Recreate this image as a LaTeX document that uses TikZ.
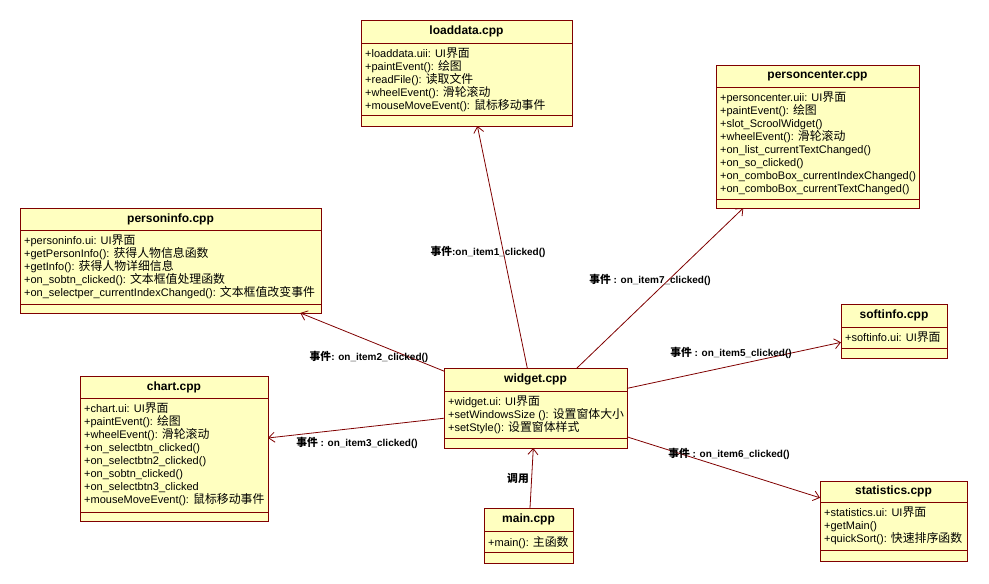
\documentclass[tikz,border=0pt]{standalone}
\usepackage{fontspec}
\setmainfont{Liberation Sans}
\newfontfamily\cjk{Noto Sans CJK SC}[Scale=1.08]
\newcommand\zh[1]{{\cjk #1}}
\usetikzlibrary{arrows.meta}
\definecolor{umlfill}{HTML}{FFFFC0}
\definecolor{umlline}{HTML}{800000}
\tikzset{
 classbox/.style={draw=umlline, fill=umlfill, rectangle, inner sep=0pt, outer sep=0pt, line width=0.9pt, anchor=north west},
 sepline/.style={draw=umlline, line width=0.9pt},
 classtitle/.style={font=\bfseries\fontsize{12}{14}\selectfont, inner sep=0pt},
 members/.style={font=\fontsize{11}{13}\selectfont, align=left, inner sep=0pt, anchor=north west},
 dep/.style={draw=umlline, line width=0.8pt, -{Straight Barb[length=6pt,width=10pt]}},
 evlabel/.style={font=\bfseries\fontsize{10}{12}\selectfont, inner sep=0pt},
}
\newcommand\umlclass[9]{%
 \node[classbox, minimum width={#4-#2}, minimum height={#7-#3}] (#1) at (#2,#3) {};
 \draw[sepline] (#2,#5) -- (#4,#5);
 \draw[sepline] (#2,#6) -- (#4,#6);
 \node[classtitle] (#1-title) at ({(#2+#4)/2},{(#3+#5)/2}) {#8};
 \node[members] (#1-members) at ({#2+4},{#5+5}) {#9};
}
\begin{document}
\begin{tikzpicture}[x=1pt,y=-1pt]
\useasboundingbox (0,0) rectangle (989,584);
\fill[white] (0,0) rectangle (989,584);

\umlclass{loaddata}{361}{20}{572}{43}{115}{126}{loaddata.cpp}{%
+loaddata.uii: UI\zh{界面}\\
+paintEvent(): \zh{绘图}\\
+readFile(): \zh{读取文件}\\
+wheelEvent(): \zh{滑轮滚动}\\
+mouseMoveEvent(): \zh{鼠标移动事件}}

\umlclass{personcenter}{716}{65}{919}{87}{199}{208}{personcenter.cpp}{%
+personcenter.uii: UI\zh{界面}\\
+paintEvent(): \zh{绘图}\\
+slot\_ScroolWidget()\\
+wheelEvent(): \zh{滑轮滚动}\\
+on\_list\_currentTextChanged()\\
+on\_so\_clicked()\\
+on\_comboBox\_currentIndexChanged()\\
+on\_comboBox\_currentTextChanged()}

\umlclass{personinfo}{20}{208}{321}{230}{304}{313}{personinfo.cpp}{%
+personinfo.ui: UI\zh{界面}\\
+getPersonInfo(): \zh{获得人物信息函数}\\
+getInfo(): \zh{获得人物详细信息}\\
+on\_sobtn\_clicked(): \zh{文本框值处理函数}\\
+on\_selectper\_currentIndexChanged(): \zh{文本框值改变事件}}

\umlclass{chart}{80}{376}{268}{398}{512}{521}{chart.cpp}{%
+chart.ui: UI\zh{界面}\\
+paintEvent(): \zh{绘图}\\
+wheelEvent(): \zh{滑轮滚动}\\
+on\_selectbtn\_clicked()\\
+on\_selectbtn2\_clicked()\\
+on\_sobtn\_clicked()\\
+on\_selectbtn3\_clicked\\
+mouseMoveEvent(): \zh{鼠标移动事件}}

\umlclass{widget}{444}{368}{627}{391}{438}{448}{widget.cpp}{%
+widget.ui: UI\zh{界面}\\
+setWindowsSize (): \zh{设置窗体大小}\\
+setStyle(): \zh{设置窗体样式}}

\umlclass{main}{484}{508}{573}{531}{552}{563}{main.cpp}{%
+main(): \zh{主函数}}

\umlclass{softinfo}{841}{304}{947}{327}{348}{358}{softinfo.cpp}{%
+softinfo.ui: UI\zh{界面}}

\umlclass{statistics}{820}{481}{967}{502}{550}{561}{statistics.cpp}{%
+statistics.ui: UI\zh{界面}\\
+getMain()\\
+quickSort(): \zh{快速排序函数}}

\draw[dep] (widget) -- (loaddata);
\draw[dep] (widget) -- (personcenter);
\draw[dep] (widget) -- (personinfo);
\draw[dep] (widget) -- (chart);
\draw[dep] (widget) -- (softinfo);
\draw[dep] (widget) -- (statistics);
\draw[dep] (main) -- (widget);

\node[evlabel] (l1) at (488,252) {\zh{事件}:on\_item1\_clicked()};
\node[evlabel] (l7) at (650,280) {\zh{事件} : on\_item7\_clicked()};
\node[evlabel] (l2) at (369,357) {\zh{事件}: on\_item2\_clicked()};
\node[evlabel] (l3) at (357,443) {\zh{事件} : on\_item3\_clicked()};
\node[evlabel] (l5) at (731,353) {\zh{事件} : on\_item5\_clicked()};
\node[evlabel] (l6) at (729,454) {\zh{事件} : on\_item6\_clicked()};
\node[evlabel] (lcall) at (518,478) {\zh{调用}};
\end{tikzpicture}
\end{document}
